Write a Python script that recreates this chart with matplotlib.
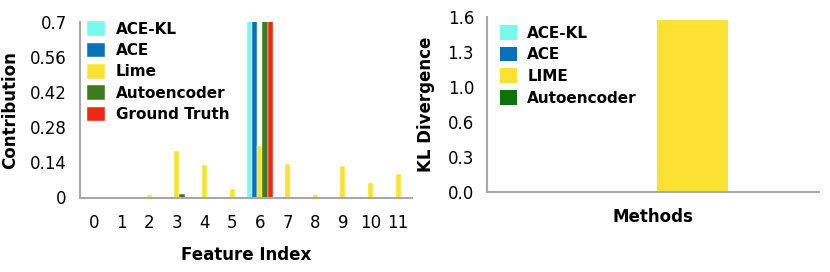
import matplotlib
matplotlib.use("Agg")
import matplotlib.pyplot as plt
import numpy as np

# left panel: per-feature contribution
features = list(range(12))
ace_kl = [0, 0, 0, 0, 0, 0, 1.0, 0, 0, 0, 0, 0]
ace = [0, 0, 0, 0, 0, 0, 1.0, 0, 0, 0, 0, 0]
lime = [0.003, 0.002, 0.01, 0.185, 0.129, 0.032, 0.206, 0.133, 0.009, 0.125, 0.057, 0.093]
autoenc = [0, 0, 0, 0.012, 0, 0, 1.0, 0, 0, 0, 0, 0]
truth = [0, 0, 0, 0, 0, 0, 1.0, 0, 0, 0, 0, 0]
left_names = ['ACE-KL', 'ACE', 'Lime', 'Autoencoder', 'Ground Truth']
left_colors = ['#76FAEB', '#0A70BA', '#FBE232', '#3F7A1E', '#EE2612']

# right panel: KL divergence per method
methods = ['ACE-KL', 'ACE', 'LIME', 'Autoencoder']
kl = [0.0, 0.0, 1.57, 0.015]
right_colors = ['#76FAEB', '#0A70BA', '#FBE232', '#0A740A']

spine_col = '#A8A8A8'
plt.rcParams['font.size'] = 12

fig = plt.figure(figsize=(8.3, 2.72), dpi=100)
ax1 = fig.add_axes([80/830, 74.5/272, 332/830, 175.5/272])
ax2 = fig.add_axes([487.3/830, 79.7/272, 332/830, 175.6/272])

x = np.arange(len(features))
w = 0.19
for i, (vals, name, c) in enumerate(zip([ace_kl, ace, lime, autoenc, truth], left_names, left_colors)):
    ax1.bar(x + (i - 2) * w, vals, w, color=c, label=name, edgecolor='white', linewidth=0.3)
ax1.set_xlim(-0.5, 11.5)
ax1.set_ylim(0, 0.7)
ax1.set_xticks(x)
ax1.set_xticklabels([str(f) for f in features])
ax1.set_yticks([0, 0.14, 0.28, 0.42, 0.56, 0.7])
ax1.set_yticklabels(['0', '0.14', '0.28', '0.42', '0.56', '0.7'])
ax1.tick_params(axis='x', length=0, pad=12)
ax1.tick_params(axis='y', length=0, pad=9.5)
ax1.set_xlabel('Feature Index', fontweight='bold', labelpad=10)
ax1.set_ylabel('Contribution', fontweight='bold', labelpad=7.5)
ax1.legend(loc='upper left', bbox_to_anchor=(0.021, 1.004), frameon=False,
           borderpad=0, borderaxespad=0, handlelength=1.2, handleheight=1.1,
           handletextpad=0.7, labelspacing=0.38, prop={'weight': 'bold', 'size': 11})

xm = np.arange(len(methods))
for i in range(len(methods)):
    ax2.bar(xm[i], kl[i], 0.913, color=right_colors[i], label=methods[i])
ax2.set_xlim(-0.658, 3.64)
ax2.set_ylim(0, 1.6)
ax2.set_xticks([])
ax2.set_yticks([0, 0.32, 0.64, 0.96, 1.28, 1.6])
ax2.set_yticklabels(['0.0', '0.3', '0.6', '1.0', '1.3', '1.6'])
ax2.tick_params(axis='y', length=0, pad=9.5)
ax2.set_xlabel('Methods', fontweight='bold', labelpad=11.5)
ax2.set_ylabel('KL Divergence', fontweight='bold', labelpad=9)
ax2.legend(loc='upper left', bbox_to_anchor=(0.038, 0.952), frameon=False,
           borderpad=0, borderaxespad=0, handlelength=1.1, handleheight=1.1,
           handletextpad=0.7, labelspacing=0.4, prop={'weight': 'bold', 'size': 11})

for ax in (ax1, ax2):
    ax.spines['top'].set_visible(False)
    ax.spines['right'].set_visible(False)
    for s in ('left', 'bottom'):
        ax.spines[s].set_color(spine_col)
        ax.spines[s].set_linewidth(1.5)

fig.savefig('out.png', dpi=100)
